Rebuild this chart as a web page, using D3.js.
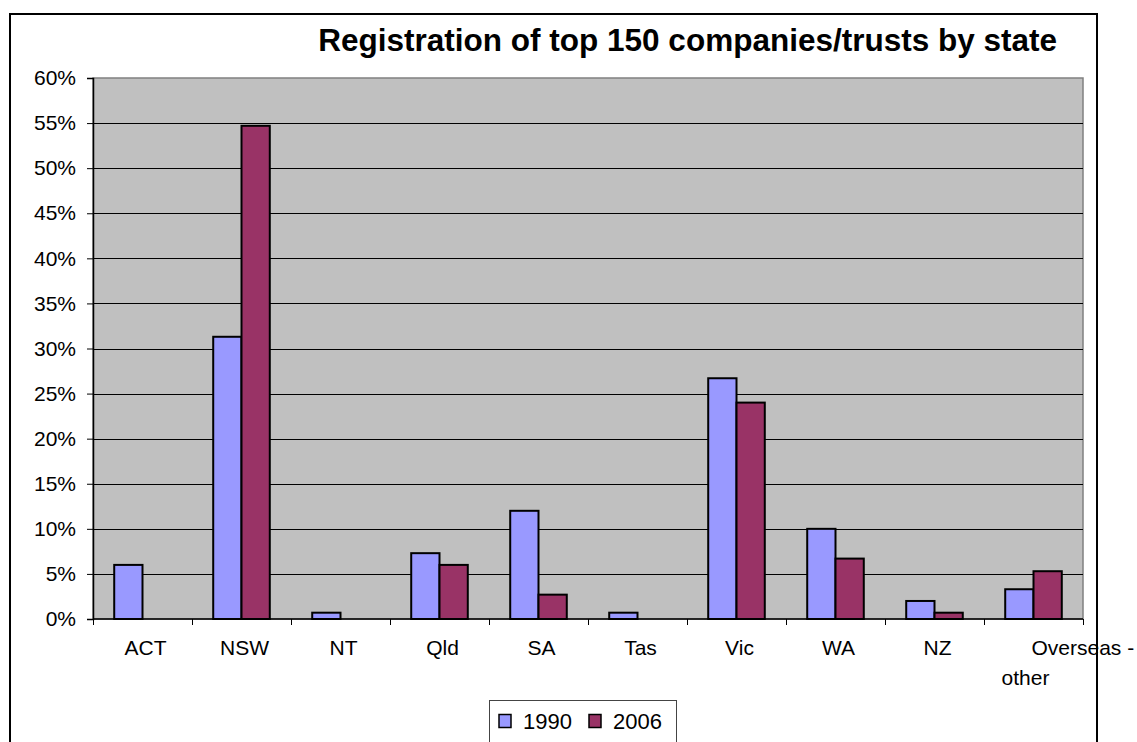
<!DOCTYPE html>
<html>
<head>
<meta charset="utf-8">
<script src="https://cdn.jsdelivr.net/npm/d3@7"></script>
<style>
  body { margin: 0; background: #fff; }
  text { font-family: "Liberation Sans", Arial, sans-serif; fill: #000; }
</style>
</head>
<body>
<div id="chart"></div>
<script>
// data (share of top 150 companies/trusts, %)
const states = ["ACT", "NSW", "NT", "Qld", "SA", "Tas", "Vic", "WA", "NZ", "Overseas - other"];
const years = ["1990", "2006"];
const values1990 = [6.0, 31.3, 0.7, 7.3, 12.0, 0.7, 26.7, 10.0, 2.0, 3.3];
const values2006 = [0, 54.7, 0, 6.0, 2.7, 0, 24.0, 6.7, 0.7, 5.3];
const yTicks = [0, 5, 10, 15, 20, 25, 30, 35, 40, 45, 50, 55, 60];
const title = "Registration of top 150 companies/trusts by state";

const colors = {"1990": "#9999ff", "2006": "#993366"};

const svgWidth = 1137;
const svgHeight = 742;
const plot = {left: 93, right: 1083, top: 78, bottom: 619};

const svg = d3.select("#chart")
    .append("svg")
        .attr("width", svgWidth)
        .attr("height", svgHeight);

// outer chart border (runs off the bottom like the original)
svg.append("rect")
    .attr("x", 10)
    .attr("y", 14)
    .attr("width", 1087)
    .attr("height", 760)
    .attr("fill", "#fff")
    .attr("stroke", "#000")
    .attr("stroke-width", 2);

// title
svg.append("text")
    .attr("x", 1057)
    .attr("y", 51)
    .attr("text-anchor", "end")
    .style("font-size", "31.5px")
    .style("font-weight", "bold")
    .text(title);

// scales
const xScale = d3.scaleBand()
    .domain(states)
    .range([plot.left, plot.right]);

const bw = xScale.bandwidth();
const barW = bw / 3.5; // excel gap width 150%
const xInner = d3.scaleBand()
    .domain(years)
    .range([(bw - 2 * barW) / 2, (bw + 2 * barW) / 2]);

const yScale = d3.scaleLinear()
    .domain([0, 60])
    .range([plot.bottom, plot.top]);

// plot background
svg.append("rect")
    .attr("x", plot.left)
    .attr("y", plot.top)
    .attr("width", plot.right - plot.left)
    .attr("height", plot.bottom - plot.top)
    .attr("fill", "#c0c0c0")
    .attr("stroke", "#808080")
    .attr("stroke-width", 1.5);

// gridlines
svg.append("g")
    .selectAll("line")
    .data(yTicks.filter(d => d > 0 && d < 60))
    .enter().append("line")
        .attr("x1", plot.left)
        .attr("x2", plot.right)
        .attr("y1", d => Math.round(yScale(d)) + 0.5)
        .attr("y2", d => Math.round(yScale(d)) + 0.5)
        .attr("stroke", "#000")
        .attr("stroke-width", 1);

// bars
const series = [
    {year: "1990", values: values1990},
    {year: "2006", values: values2006}
];

const groups = svg.append("g")
    .selectAll("g")
    .data(series)
    .enter().append("g")
        .attr("fill", d => colors[d.year]);

groups.selectAll("rect")
    .data(s => s.values.map((v, i) => ({state: states[i], year: s.year, value: v})))
    .enter().append("rect")
        .filter(d => d.value > 0)
        .attr("x", d => xScale(d.state) + xInner(d.year))
        .attr("y", d => yScale(d.value))
        .attr("width", xInner.bandwidth())
        .attr("height", d => plot.bottom - yScale(d.value))
        .attr("stroke", "#000")
        .attr("stroke-width", 2);

// y axis
const yAxis = d3.axisLeft(yScale)
    .tickValues(yTicks)
    .tickSize(6)
    .tickPadding(11)
    .tickFormat(d => d + "%");

const yAxisGroup = svg.append("g")
    .attr("transform", `translate(${plot.left}, 0)`)
    .call(yAxis);
yAxisGroup.select(".domain").attr("stroke", "#000").attr("stroke-width", 1.5);
yAxisGroup.selectAll(".tick line").attr("stroke", "#000");
yAxisGroup.selectAll("text")
    .style("font-size", "21px")
    .style("font-family", "'Liberation Sans', Arial, sans-serif")
    .attr("fill", "#000");

// x axis: baseline + ticks between categories
svg.append("line")
    .attr("x1", plot.left)
    .attr("x2", plot.right)
    .attr("y1", plot.bottom)
    .attr("y2", plot.bottom)
    .attr("stroke", "#000")
    .attr("stroke-width", 1.5);

svg.append("g")
    .selectAll("line")
    .data(states.concat(["end"]))
    .enter().append("line")
        .attr("x1", (d, i) => Math.round(plot.left + i * bw) + 0.5)
        .attr("x2", (d, i) => Math.round(plot.left + i * bw) + 0.5)
        .attr("y1", plot.bottom)
        .attr("y2", plot.bottom + 6)
        .attr("stroke", "#000");

// category labels
svg.append("g")
    .selectAll("text")
    .data(states)
    .enter().append("text")
        .attr("x", d => xScale(d) + bw / 2 + 3)
        .attr("y", 655)
        .attr("text-anchor", "middle")
        .style("font-size", "21px")
        .text(d => d.includes(" - ") ? "" : d);

// wrapped last label, laid out the way excel did it
const wrapped = states.filter(d => d.includes(" - "));
wrapped.forEach(d => {
    const parts = d.split(" - ");
    const cx = xScale(d) + bw / 2;
    svg.append("text")
        .attr("x", cx - 2)
        .attr("y", 655)
        .attr("text-anchor", "start")
        .style("font-size", "21px")
        .text(parts[0] + " -");
    svg.append("text")
        .attr("x", cx - 8)
        .attr("y", 685)
        .attr("text-anchor", "middle")
        .style("font-size", "21px")
        .text(parts[1]);
});

// legend
const legend = svg.append("g");
legend.append("rect")
    .attr("x", 489.5)
    .attr("y", 700.5)
    .attr("width", 187)
    .attr("height", 60)
    .attr("fill", "#fff")
    .attr("stroke", "#444")
    .attr("stroke-width", 1);

const legendX = [499, 589];
years.forEach((y, i) => {
    legend.append("rect")
        .attr("x", legendX[i])
        .attr("y", 714.5)
        .attr("width", 12)
        .attr("height", 13)
        .attr("fill", colors[y])
        .attr("stroke", "#000")
        .attr("stroke-width", 1.5);
    legend.append("text")
        .attr("x", legendX[i] + 24)
        .attr("y", 728.5)
        .style("font-size", "22px")
        .text(y);
});
</script>
</body>
</html>
